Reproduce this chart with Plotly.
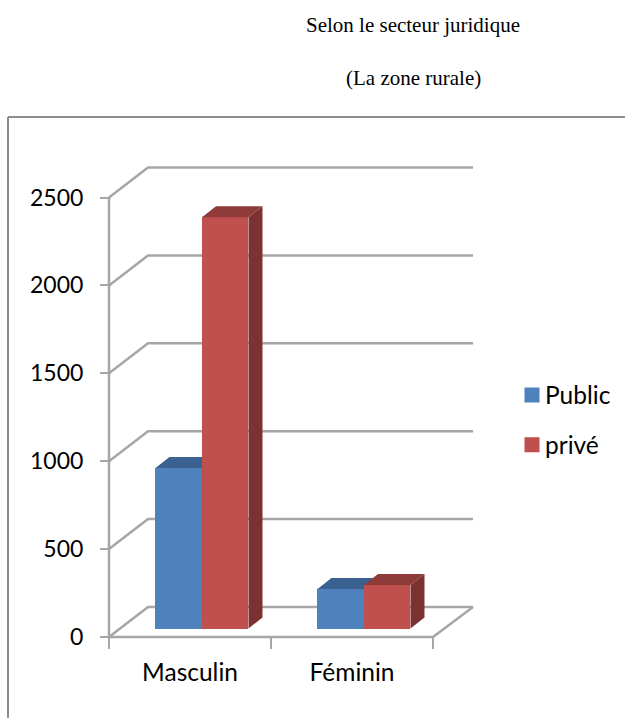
import plotly.graph_objects as go

categories = ["Masculin", "Féminin"]
public_values = [913, 225]
prive_values = [2340, 248]
y_ticks = [0, 500, 1000, 1500, 2000, 2500]

BLUE, BLUE_TOP = "#4f81bd", "#3a6190"
RED, RED_TOP, RED_SIDE = "#c0504d", "#8f3b39", "#7c3230"
GRID = "#a6a6a6"

W, H = 625, 718
X0, X_BACK, UNIT_X = 109, 473, 162
Y0, Y_TOP, Y_BACK = 637, 197.5, 168
UNIT_Y = (Y0 - Y_TOP) / 2500
PAD = 8  # spare room round the walls so their edge lines are not cut

# Oblique depth of the floor and of the bars, in axis units
FLOOR_DX, FLOOR_DY = 39 / UNIT_X, 30 / UNIT_Y
BAR_DX, BAR_DY = 14 / UNIT_X, 11 / UNIT_Y
BASE = 8.5 / UNIT_Y
BAR_W = 46.5 / UNIT_X
CENTER = [0.574, 1.574]
X_MAX = (X_BACK - X0) / UNIT_X
Y_MAX = (Y0 - Y_BACK) / UNIT_Y
X_RANGE = [-PAD / UNIT_X, X_MAX + PAD / UNIT_X]
Y_RANGE = [-PAD / UNIT_Y, Y_MAX + PAD / UNIT_Y]


def faces(x_left, value):
    """Return top and side polygons of one bar."""
    x_right = x_left + BAR_W
    top = BASE + value
    top_face = ([x_left, x_left + BAR_DX, x_right + BAR_DX, x_right, x_left],
                [top, top + BAR_DY, top + BAR_DY, top, top])
    side_face = ([x_right, x_right + BAR_DX, x_right + BAR_DX, x_right, x_right],
                 [BASE, BASE + BAR_DY, top + BAR_DY, top, BASE])
    return top_face, side_face


def poly(xy, color, xa, ya):
    return go.Scatter(x=xy[0], y=xy[1], mode="lines", fill="toself", fillcolor=color,
                      line=dict(width=0), hoverinfo="skip", showlegend=False,
                      xaxis=xa, yaxis=ya)


fig = go.Figure()

# Walls and floor on the base axes
wall_x, wall_y = [], []
for t in y_ticks:
    wall_x += [0, FLOOR_DX, X_MAX, None]
    wall_y += [t, t + FLOOR_DY, t + FLOOR_DY, None]
wall_x += [0, 0, None, 0, 2, X_MAX, None]
wall_y += [0, y_ticks[-1], None, 0, 0, FLOOR_DY, None]
fig.add_trace(go.Scatter(x=wall_x, y=wall_y, mode="lines", line=dict(color=GRID, width=2.5),
                         hoverinfo="skip", showlegend=False))

# Each series gets its own overlaid axis pair so the red fronts hide the blue depth faces
series = [("Public", public_values, -BAR_W / 2, BLUE, BLUE_TOP, "#3a6190", "x2", "y2"),
          ("privé", prive_values, BAR_W / 2, RED, RED_TOP, RED_SIDE, "x3", "y3")]
for name, values, shift, color, top_c, side_c, xa, ya in series:
    xs = [c + shift for c in CENTER]
    fig.add_trace(go.Bar(x=xs, y=values, base=BASE, width=BAR_W, marker=dict(color=color, line=dict(width=0)),
                         name=name, showlegend=False, xaxis=xa, yaxis=ya))
    for xc, v in zip(xs, values):
        top_face, side_face = faces(xc - BAR_W / 2, v)
        fig.add_trace(poly(top_face, top_c, xa, ya))
        fig.add_trace(poly(side_face, side_c, xa, ya))

# Legend entries
for name, color in (("Public", BLUE), ("privé", RED)):
    fig.add_trace(go.Scatter(x=[None], y=[None], mode="markers", name=name, legendgroup=name,
                             marker=dict(symbol="square", size=15, color=color, line=dict(width=0))))

# Chart frame
frame = dict(color="#8c8c8c", width=2)
shapes = [dict(type="line", xref="paper", yref="paper", x0=8 / W, x1=8 / W, y0=0, y1=1 - 117 / H, line=frame),
          dict(type="line", xref="paper", yref="paper", x0=8 / W, x1=1, y0=1 - 117 / H, y1=1 - 117 / H, line=frame)]

font = dict(family="Lato, Carlito, sans-serif", size=24.5, color="#000000")
tick_font = dict(family="Lato, Carlito, sans-serif", size=23, color="#000000")
title_font = dict(family="Liberation Serif", size=21, color="#000000")
x_dom = [(X0 - PAD) / W, (X_BACK + PAD) / W]
y_dom = [1 - (Y0 + PAD) / H, 1 - (Y_BACK - PAD) / H]

hidden = dict(domain=x_dom, range=X_RANGE, overlaying="x", visible=False)
hidden_y = dict(domain=y_dom, range=Y_RANGE, overlaying="y", visible=False)

fig.update_layout(
    width=W, height=H, margin=dict(l=0, r=0, t=0, b=0, autoexpand=False), autosize=False,
    paper_bgcolor="white", plot_bgcolor="rgba(0,0,0,0)", bargap=0, shapes=shapes, font=font,
    title=dict(text="Selon le secteur juridique", x=413 / W, y=1 - 25 / H, xanchor="center", yanchor="middle",
               font=title_font),
    annotations=[dict(text="(La zone rurale)", xref="paper", yref="paper", x=413 / W, y=1 - 78 / H,
                      xanchor="center", yanchor="middle", showarrow=False, font=title_font)],
    xaxis=dict(domain=x_dom, range=X_RANGE, showgrid=False, zeroline=False, showline=False,
               anchor="free", position=1 - Y0 / H,
               tickmode="array", tickvals=[0.5, 1.5], ticktext=categories, ticks="outside", ticklen=14,
               tickcolor="rgba(0,0,0,0)", tickfont=font,
               minor=dict(tickmode="array", tickvals=[0, 1, 2], ticks="outside", ticklen=11, tickcolor=GRID, tickwidth=2, showgrid=False)),
    yaxis=dict(domain=y_dom, range=Y_RANGE, showgrid=False, zeroline=False, showline=False,
               anchor="free", position=X0 / W,
               tickmode="array", tickvals=y_ticks, ticks="outside", ticklen=9, tickcolor=GRID, tickwidth=2,
               ticklabelstandoff=12, tickfont=tick_font),
    xaxis2=hidden, yaxis2=hidden_y, xaxis3=hidden, yaxis3=hidden_y,
    legend=dict(x=505 / W, y=1 - 420 / H, xanchor="left", yanchor="middle", font=font, traceorder="grouped",
                tracegroupgap=15, bgcolor="rgba(0,0,0,0)", itemclick=False, itemdoubleclick=False),
    showlegend=True,
)

# Pull the legend swatches closer to their labels
shift_js = """
document.querySelectorAll('.legendsymbols').forEach(function (g) {
  g.setAttribute('transform', 'translate(7,0)');
});
"""
fig.write_html("out.html", post_script=shift_js)
